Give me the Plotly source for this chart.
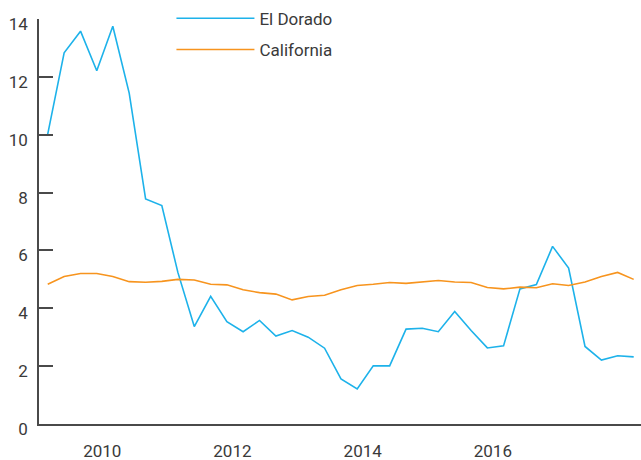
import pandas as pd
import plotly.graph_objects as go

quarters = pd.date_range("2009-03-01", periods=37, freq="3MS")

el_dorado = [10.02, 12.83, 13.58, 12.21, 13.75, 11.44, 7.78, 7.55, 5.24, 3.37,
             4.41, 3.54, 3.19, 3.58, 3.04, 3.23, 3.00, 2.62, 1.56, 1.21,
             2.01, 2.01, 3.28, 3.31, 3.19, 3.89, 3.23, 2.63, 2.70, 4.67,
             4.82, 6.14, 5.39, 2.68, 2.21, 2.36, 2.32]

california = [4.83, 5.10, 5.20, 5.20, 5.10, 4.92, 4.90, 4.93, 5.00, 4.98,
              4.83, 4.81, 4.64, 4.54, 4.49, 4.29, 4.41, 4.45, 4.64, 4.79,
              4.83, 4.89, 4.86, 4.92, 4.96, 4.91, 4.89, 4.72, 4.67, 4.73,
              4.71, 4.85, 4.79, 4.91, 5.10, 5.24, 5.00]

tick_labels = ["2010", "2012", "2014", "2016"]
tick_dates = [f"{y}-01-01" for y in tick_labels]
y_ticks = [0, 2, 4, 6, 8, 10, 12, 14]

BLUE = "#1db2ea"
ORANGE = "#f7941e"
AXIS = "#4a4a4a"
TEXT = "#3a3a3a"
FONT = "Roboto, Liberation Sans, sans-serif"

fig = go.Figure()
fig.add_trace(go.Scatter(x=quarters, y=el_dorado, mode="lines", name="El Dorado",
                         legendgroup="a", line=dict(color=BLUE, width=1.6)))
fig.add_trace(go.Scatter(x=quarters, y=california, mode="lines", name="California",
                         legendgroup="b", line=dict(color=ORANGE, width=1.6)))

x0 = quarters[0] - pd.Timedelta(days=49)
x1 = quarters[-1] + pd.Timedelta(days=41)

fig.update_layout(
    width=641, height=460,
    margin=dict(l=39, r=0, t=19, b=36),
    paper_bgcolor="white", plot_bgcolor="white",
    font=dict(family=FONT, size=17, color=TEXT),
    showlegend=True,
    legend=dict(x=0.22, y=1.045, xanchor="left", yanchor="top",
                bgcolor="rgba(0,0,0,0)", itemwidth=78,
                font=dict(size=17, color=TEXT), tracegroupgap=6,
                traceorder="grouped"),
    xaxis=dict(type="date", range=[x0, x1], tickvals=tick_dates, ticktext=tick_labels,
               showgrid=False, zeroline=False, showline=True, linecolor=AXIS,
               linewidth=1.5, ticks="", ticklabelstandoff=11, automargin=False),
    yaxis=dict(range=[0, 14], tickvals=y_ticks, showgrid=False, zeroline=False,
               showline=True, linecolor=AXIS, linewidth=1.5, ticks="inside",
               ticklen=14, tickcolor=AXIS, tickwidth=1.5, ticklabelstandoff=6,
               ticklabelshift=5, automargin=False),
)

fig.write_html("out.html", config={"displayModeBar": False},
               post_script="document.body.style.margin='0';document.body.style.overflow='hidden';")
